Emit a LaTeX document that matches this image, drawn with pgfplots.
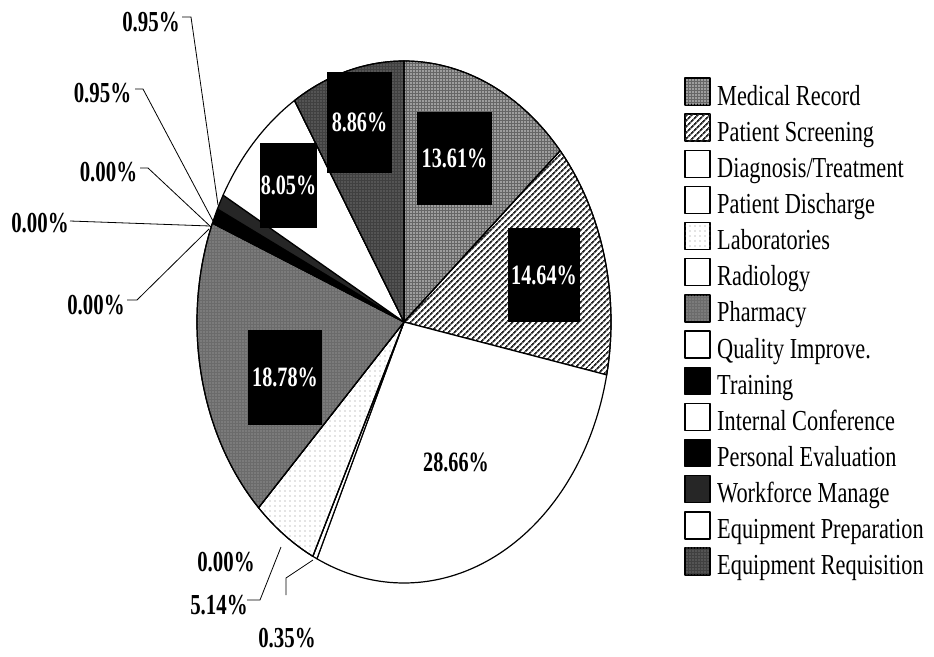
\documentclass[border=0pt]{standalone}
\usepackage{pgfplots}
\pgfplotsset{compat=1.18}
\usetikzlibrary{patterns,patterns.meta}
\usepackage{fontspec}
\setmainfont{Liberation Serif}
\newfontfamily\cf[FakeStretch=0.77]{Liberation Serif}
\newfontfamily\cfb[FakeStretch=0.72]{Liberation Serif}

\tikzset{
  pieslice/.style={draw=black, line width=1.2pt, line join=round},
  sWhite/.style={pieslice, fill=white},
  sMed/.style={pieslice, fill=black!60, postaction={pattern={Dots[distance=3pt, radius=0.85pt]}, pattern color=white!85!black}},
  sScreen/.style={pieslice, fill=white, postaction={pattern={Lines[angle=45, distance=4pt, line width=1.8pt]}, pattern color=black!85}},
  sLab/.style={pieslice, fill=white, postaction={pattern={Dots[distance=5pt, radius=0.6pt]}, pattern color=black!45}},
  sPharm/.style={pieslice, fill=black!58, postaction={pattern={Dots[distance=3pt, radius=0.7pt]}, pattern color=white!70!black}},
  sBlack/.style={pieslice, fill=black},
  sWork/.style={pieslice, fill=black!85},
  sReq/.style={pieslice, fill=black!75, postaction={pattern={Dots[distance=3pt, radius=0.6pt]}, pattern color=black!40}},
}

\newcommand\cum{0}
\newcommand\slice[2]{%
  \ifdim #1pt>0pt
    \pgfmathsetmacro\sa{\cum*3.6}%
    \pgfmathsetmacro\cumnew{\cum+#1}%
    \pgfmathsetmacro\sb{\cumnew*3.6}%
    \xdef\cum{\cumnew}%
    \edef\doslice{\noexpand\addplot[#2,domain=\sa:\sb,samples=80,forget plot]
      ({404+207*sin(x)},{322-261*cos(x)}) -- (axis cs:404,322) -- cycle;}%
    \doslice
  \fi}

\newcommand\legitem[3]{% baseline y, style, text
  \draw[#2, line width=1.4pt] (axis cs:685,#1-27) rectangle (axis cs:710,#1);
  \node[anchor=base west, inner sep=0pt, font=\cf\fontsize{29}{29}\selectfont] at (axis cs:717,#1) {#3};}

\begin{document}
\begin{tikzpicture}
\begin{axis}[
  width=934pt, height=656pt, scale only axis,
  xmin=0, xmax=934, ymin=0, ymax=656, y dir=reverse,
  axis lines=none, clip=false,
]
\path (axis cs:0,0) rectangle (axis cs:934,656);

% slices, clockwise from 12 o'clock (percent values)
\slice{13.61}{sMed}     % Medical Record
\slice{14.64}{sScreen}  % Patient Screening
\slice{28.66}{sWhite}   % Diagnosis/Treatment
\slice{0.35}{sWhite}    % Patient Discharge
\slice{5.14}{sLab}      % Laboratories
\slice{0.00}{sWhite}    % Radiology
\slice{18.78}{sPharm}   % Pharmacy
\slice{0.00}{sWhite}    % Quality Improve.
\slice{0.00}{sBlack}    % Training
\slice{0.00}{sWhite}    % Internal Conference
\slice{0.95}{sBlack}    % Personal Evaluation
\slice{0.95}{sWork}     % Workforce Manage
\slice{8.05}{sWhite}    % Equipment Preparation
\slice{8.86}{sReq}      % Equipment Requisition

% boxed labels
\tikzset{boxlab/.style={fill=black, text=white, inner sep=0pt, font=\cfb\bfseries\fontsize{28}{28}\selectfont}}
\node[boxlab, minimum width=75pt, minimum height=93pt] at (axis cs:454.5,158.5) {13.61\%};
\node[boxlab, minimum width=72pt, minimum height=94pt] at (axis cs:544,275) {14.64\%};
\node[boxlab, minimum width=65pt, minimum height=101pt] at (axis cs:359.5,122.5) {8.86\%};
\node[boxlab, minimum width=57pt, minimum height=85pt] at (axis cs:288.5,185.5) {8.05\%};
\node[boxlab, minimum width=74pt, minimum height=95pt] at (axis cs:285,377.5) {18.78\%};
\node[inner sep=0pt, font=\cfb\bfseries\fontsize{28}{28}\selectfont] at (axis cs:456,462) {28.66\%};

% outside labels with leader lines
\tikzset{olab/.style={inner sep=0pt, font=\cfb\bfseries\fontsize{29}{29}\selectfont}}
\node[olab] at (axis cs:151,22) {0.95\%};
\node[olab] at (axis cs:102.5,93) {0.95\%};
\node[olab] at (axis cs:108.5,172) {0.00\%};
\node[olab] at (axis cs:40,223) {0.00\%};
\node[olab] at (axis cs:96,305) {0.00\%};
\node[olab] at (axis cs:226,562) {0.00\%};
\node[olab] at (axis cs:219,605) {5.14\%};
\node[olab] at (axis cs:287,638) {0.35\%};
\draw[line width=0.8pt] (axis cs:182,17) -- (axis cs:191,17) -- (axis cs:218,205);
\draw[line width=0.8pt] (axis cs:135,89) -- (axis cs:143,89) -- (axis cs:213,221);
\draw[line width=0.8pt] (axis cs:140,168) -- (axis cs:148,168) -- (axis cs:211,227);
\draw[line width=0.8pt] (axis cs:70,221) -- (axis cs:210,226);
\draw[line width=0.8pt] (axis cs:127,300) -- (axis cs:137,300) -- (axis cs:209,229);
\draw[line width=0.8pt] (axis cs:247,600) -- (axis cs:260,600) -- (axis cs:281,547);
\draw[line width=0.8pt] (axis cs:286,595) -- (axis cs:286,578) -- (axis cs:313,560);

% legend
\legitem{105}{sMed}{Medical Record}
\legitem{141.15}{sScreen}{Patient Screening}
\legitem{177.3}{sWhite}{Diagnosis/Treatment}
\legitem{213.45}{sWhite}{Patient Discharge}
\legitem{249.6}{sLab}{Laboratories}
\legitem{285.75}{sWhite}{Radiology}
\legitem{321.9}{sPharm}{Pharmacy}
\legitem{358.05}{sWhite}{Quality Improve.}
\legitem{394.2}{sBlack}{Training}
\legitem{430.35}{sWhite}{Internal Conference}
\legitem{466.5}{sBlack}{Personal Evaluation}
\legitem{502.65}{sWork}{Workforce Manage}
\legitem{538.8}{sWhite}{Equipment Preparation}
\legitem{574.95}{sReq}{Equipment Requisition}
\end{axis}
\end{tikzpicture}
\end{document}
